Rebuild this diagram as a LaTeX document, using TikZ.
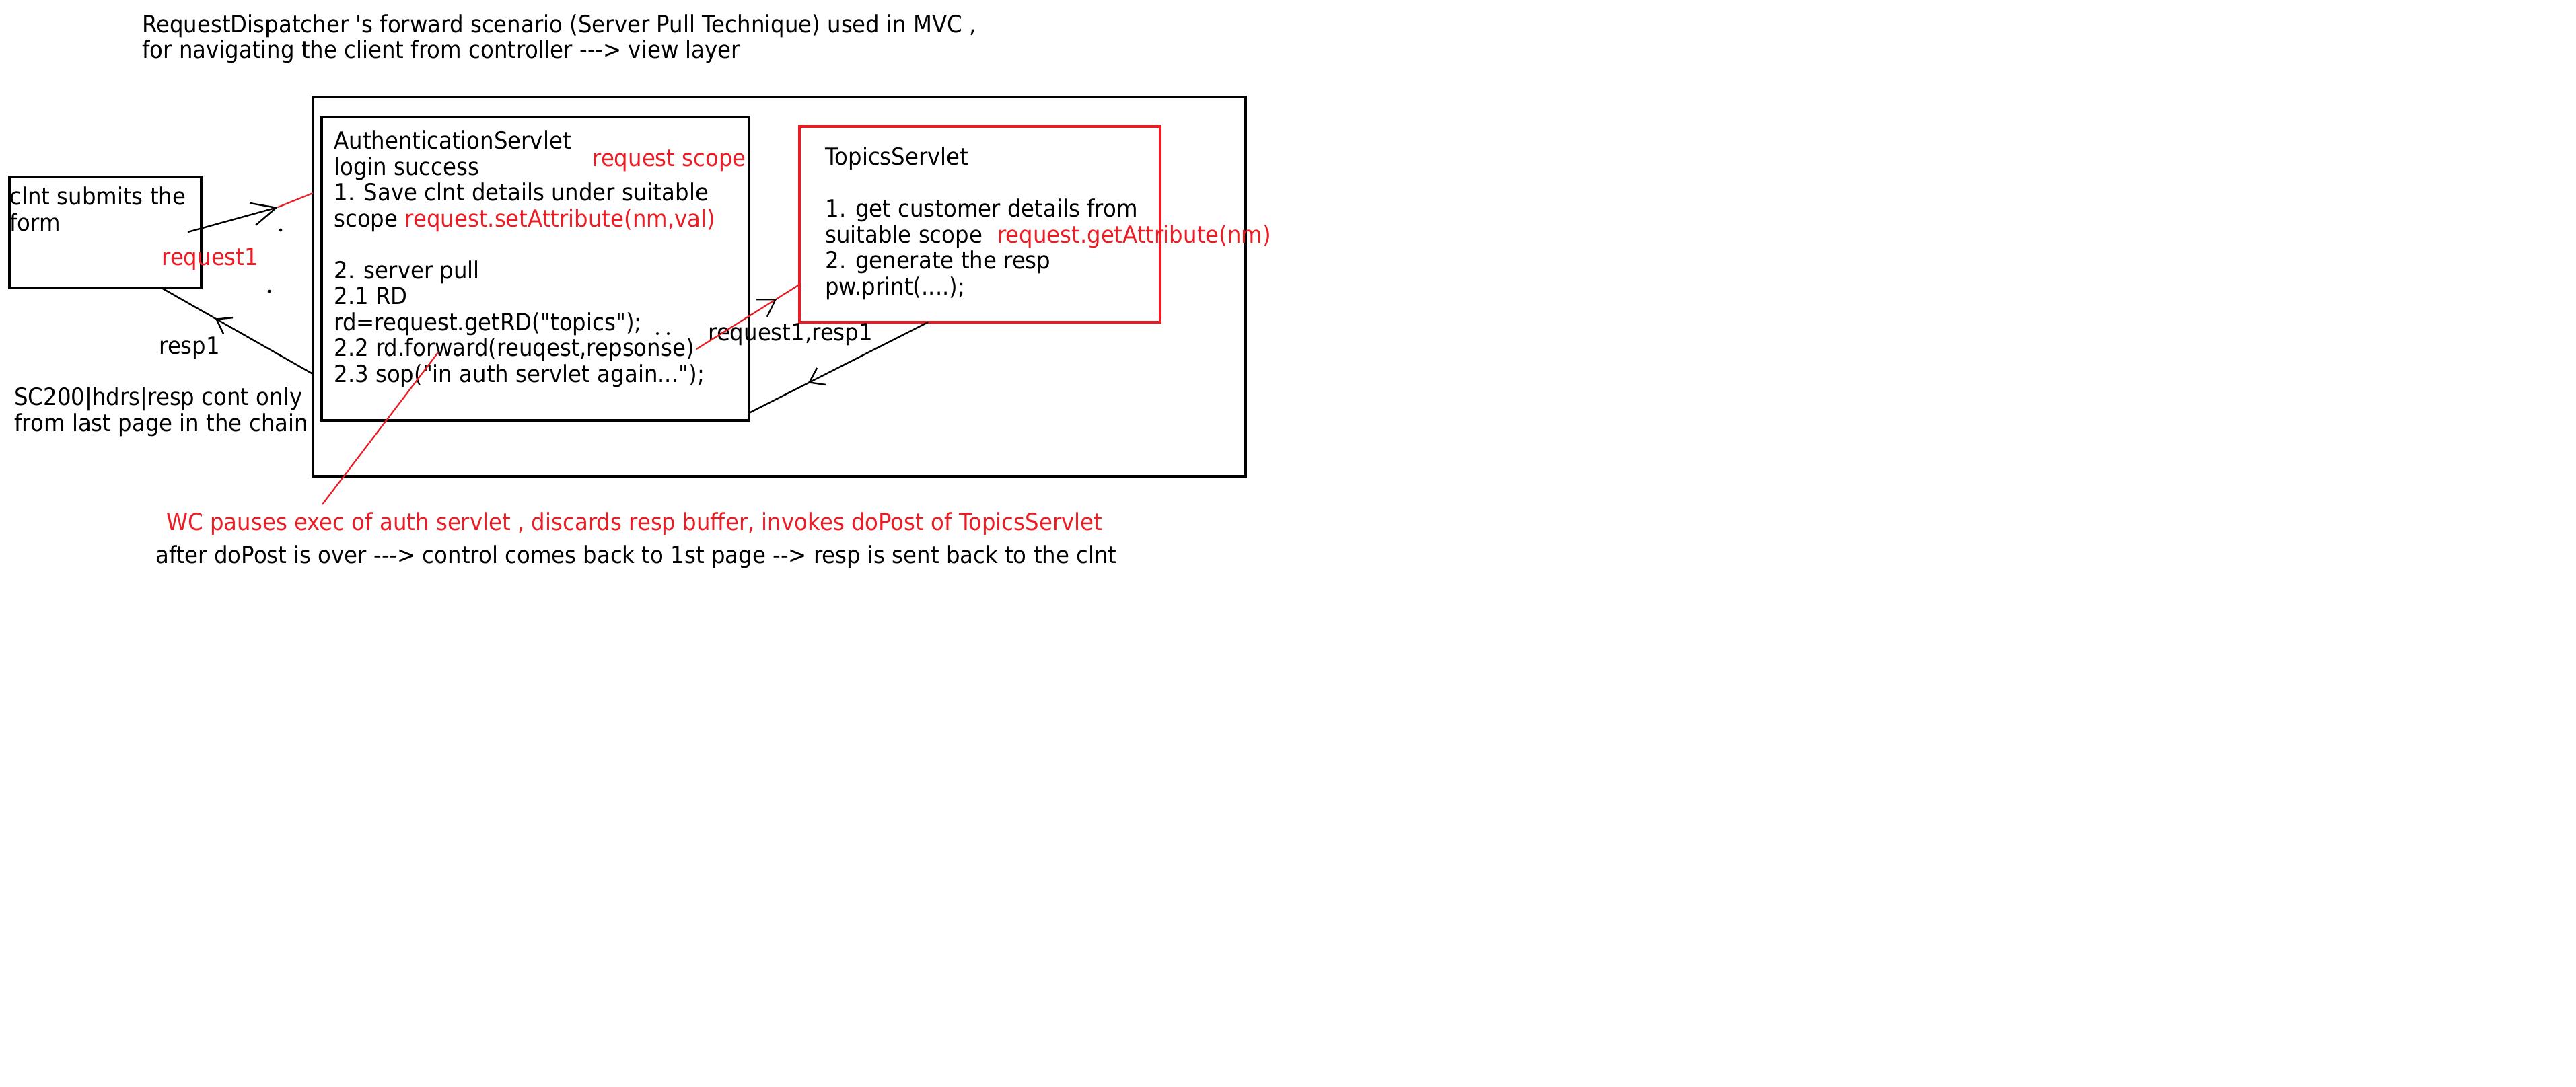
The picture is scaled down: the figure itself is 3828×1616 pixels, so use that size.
\documentclass[tikz,border=0pt]{standalone}
\usepackage{fontspec}
\usepackage{xcolor}
\newfontfamily\paintfont{DejaVu Sans}[FakeStretch=0.92]
\usetikzlibrary{arrows.meta,calc,decorations.markings}
\definecolor{paintred}{RGB}{237,28,36}
\tikzset{%
	panel/.style     = {draw, rectangle, line width=1.8pt, anchor=north west, inner sep=0pt, outer sep=0pt}, % Frame
	redpanel/.style  = {panel, draw=paintred}, % Red frame
	txt/.style       = {anchor=base west, inner sep=0pt, align=left, font=\paintfont\fontsize{17.6}{19.25}\selectfont}, % Text (base = last line)
	redtxt/.style    = {txt, text=paintred}, % Red text
	link/.style      = {line width=1.2pt}, % Black line
	redlink/.style   = {line width=1.1pt, draw=paintred}, % Red line
	midarrow/.style  = {postaction={decorate}, decoration={markings, mark=at position #1 with {\arrow{>}}}},
	blackarrow/.style= {postaction={decorate}, decoration={markings, mark=at position #1 with {\arrow{Straight Barb[length=12pt,width=15pt,color=black]}}}},
}

\begin{document}
\begin{tikzpicture}[x=0.5pt,y=-0.5pt,>={Straight Barb[length=10pt,width=14pt]}]
	\useasboundingbox (0,0) rectangle (3828,1616);
	\node [txt] (title) at (211,87) {RequestDispatcher 's forward scenario (Server Pull Technique) used in MVC ,\\for navigating the client from controller ---> view layer};
	
	\node [panel, minimum width=693pt, minimum height=282pt] (outer) at (465,144) {};
	\node [panel, minimum width=317.5pt, minimum height=225.5pt] (auth) at (478,174) {};
	\node [redpanel, minimum width=268pt, minimum height=145.5pt] (topics) at (1188,188) {};
	\node [panel, minimum width=142.5pt, minimum height=82.5pt] (clnt) at (14,263) {};
	
	\node [txt] (form) at (14,343) {clnt submits the\\form};
	\node [redtxt] (req) at (240,394) {request1};
	\node [txt] (resp) at (236,526) {resp1};
	\node [txt] (sc) at (21,641) {SC200|hdrs|resp cont only\\from last page in the chain};
	\node [txt] (authtxt) at (496,568) {AuthenticationServlet\\login success\\1. Save clnt details under suitable\\scope \textcolor{paintred}{request.setAttribute(nm,val)}\\[19.25pt]2. server pull\\2.1 RD\\rd=request.getRD("topics");\\2.2 rd.forward(reuqest,repsonse)\\2.3 sop("in auth servlet again...");};
	\node [redtxt] (scope) at (880,247) {request scope};
	\node [txt] (topicstxt) at (1226,438) {TopicsServlet\\[19.25pt]1. get customer details from\\suitable scope\hspace{11pt}\textcolor{paintred}{request.getAttribute(nm)}\\2. generate the resp\\pw.print(....);};
	\node [txt] (pass) at (1052,506) {request1,resp1};
	\node [redtxt] (wc) at (247,788) {WC pauses exec of auth servlet , discards resp buffer, invokes doPost of TopicsServlet};
	\node [txt] (after) at (231,837) {after doPost is over ---> control comes back to 1st page --> resp is sent back to the clnt};
	
	\coordinate (reqfrom) at ($(clnt.north west)+(265,82)$);
	\coordinate (reqtip) at (413,308);
	\coordinate (fwdfrom) at (1035,519);
	\coordinate (wcfrom) at (479,750);
	\coordinate (wcto) at (651,524);
	
	\draw[link,-{Straight Barb[length=18pt,width=17pt]}] (reqfrom) -- (reqtip);
	\draw[redlink] (reqtip) -- ($(outer.north west)+(0,143)$);
	\draw[link,midarrow=0.645] ($(outer.north west)+(0,412)$) -- ($(clnt.south west)+(226,0)$);
	\draw[redlink,blackarrow=0.78] (fwdfrom) -- ($(topics.north west)+(0,235)$);
	\draw[link,midarrow=0.67] ($(topics.south west)+(191,0)$) -- ($(auth.north east)+(0,440)$);
	\draw[redlink] (wcfrom) -- (wcto);
	
	% stray dots
	\fill (417,342) circle (1.2pt) (400,433) circle (1.2pt) (977,496) circle (1pt) (993,496) circle (1pt);
\end{tikzpicture}
\end{document}
